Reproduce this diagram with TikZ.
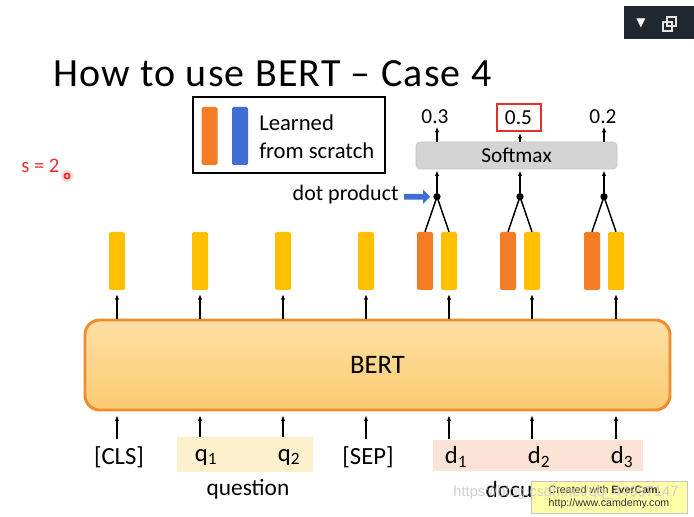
\documentclass[tikz,border=0pt]{standalone}
\usepackage{fontspec}
\setmainfont{Carlito}
\newfontfamily\symfont{DejaVu Sans}
\newfontfamily\webfont{Liberation Sans}
\usetikzlibrary{arrows.meta,positioning,shapes.arrows,calc}

\definecolor{barYellow}{HTML}{FFC000}
\definecolor{barOrange}{HTML}{F47C24}
\definecolor{barBlue}{HTML}{3F6FD4}
\definecolor{bertTop}{HTML}{FEE0A4}
\definecolor{bertBot}{HTML}{FCCB70}
\definecolor{bertLine}{HTML}{F28A2E}
\definecolor{qShade}{HTML}{FDF0CC}
\definecolor{dShade}{HTML}{FBE3D6}
\definecolor{smxFill}{HTML}{D4D4D4}
\definecolor{smxLine}{HTML}{C2C2C2}
\definecolor{toolDark}{HTML}{1F2731}
\definecolor{markRed}{HTML}{E2312B}
\definecolor{camYellow}{HTML}{FFFFAA}

\tikzset{
  tip/.style={-{Latex[length=4pt,width=3.4pt]},line width=1.1pt},
  vec/.style={minimum width=12pt,minimum height=43.5pt,inner sep=0pt,rounded corners=1.2pt},
  ylw/.style={vec,fill=barYellow},
  org/.style={vec,fill=barOrange},
  blu/.style={vec,fill=barBlue},
  tok/.style={font=\fontsize{18.5}{20}\selectfont,inner sep=1pt},
  val/.style={font=\fontsize{16}{18}\selectfont,inner sep=1pt}
}

\begin{document}
\begin{tikzpicture}[x=0.75pt,y=-0.75pt]
  \useasboundingbox (0,0) rectangle (694,517);
  \fill[white] (0,0) rectangle (694,517);

  % player toolbar
  \fill[toolDark] (624,6) rectangle (694,39);
  \node[white,font=\symfont\fontsize{9}{9}\selectfont] (menu) at (641,23) {▼};
  \draw[white!80!gray,line width=0.8pt] (663,22) rectangle (672,31) (667,17) rectangle (676,26);

  % title and marker
  \node[anchor=base west,font=\fontsize{30}{32}\selectfont\addfontfeatures{LetterSpace=3},inner sep=0pt] (title) at (53,87) {How to use BERT -- Case 4};
  \node[anchor=west,markRed,font=\fontsize{15.5}{16}\selectfont,inner sep=0pt] (s) at (21,166) {s = 2};
  \fill[markRed,opacity=0.18] (67,176) circle (6);
  \draw[markRed,line width=1.3pt] (67,176) circle (2.6);

  % legend
  \node[draw,line width=1.5pt,minimum width=144pt,minimum height=57pt,inner sep=0pt] (legend) at (289,135) {};
  \node[org] (lo) at (209.5,136) {};
  \node[blu] (lb) at (240,136) {};
  \node[anchor=west,align=left,font=\fontsize{17}{21}\selectfont,inner sep=0pt] (ltext) at (259,136.5) {Learned\\from scratch};

  % BERT
  \node[draw=bertLine,line width=2.2pt,rounded corners=11pt,top color=bertTop,bottom color=bertBot,
        minimum width=438.75pt,minimum height=67.5pt,font=\fontsize{20}{22}\selectfont] (bert) at (377.5,365) {BERT};

  % output vectors
  \foreach \i/\x in {1/117,2/200,3/283,4/366,5/449,6/532,7/616}{
    \node[ylw] (y\i) at (\x,261) {};
    \draw[tip,shorten >=3pt] (y\i |- bert.north) -- (y\i.south);
    \coordinate (in\i) at (\x,439);
    \draw[tip,shorten >=3pt] (in\i) -- (in\i |- bert.south);
  }

  % softmax
  \node[draw=smxLine,fill=smxFill,rounded corners=3pt,minimum width=150.75pt,minimum height=20.25pt,
        inner sep=0pt,font=\fontsize{16}{18}\selectfont] (smx) at (516.5,155.5) {Softmax};
  \node[val] (p1) at (435,117) {0.3};
  \node[val,draw=markRed,line width=1.5pt,minimum width=33pt,minimum height=20pt] (p2) at (518.5,117.5) {0.5};
  \node[val] (p3) at (603,117) {0.2};

  \foreach \i/\j in {1/5,2/6,3/7}{
    \node[org] (o\i) at ($(y\j)+(-24,0)$) {};
    \node[circle,fill=black,inner sep=0pt,minimum size=5.5pt] (dot\i) at ($(o\i.north)!0.5!(y\j.north)+(0,-35)$) {};
    \draw[line width=1.1pt] (o\i.north) -- (dot\i.center) -- (y\j.north);
    \draw[tip,shorten >=1pt] (dot\i.center) -- (dot\i |- smx.south);
    \draw[tip,shorten >=1pt] (dot\i |- smx.north) -- (dot\i |- p\i.south);
  }

  % dot product hint
  \node[single arrow,fill=barBlue,minimum height=19.5pt,minimum width=10.5pt,single arrow head extend=2pt,
        inner sep=1.2pt,left=2pt of dot1] (hint) {};
  \node[anchor=east,font=\fontsize{16.5}{18}\selectfont,inner sep=0pt] (dotlbl) at ($(hint.west)+(-5,-2)$) {dot product};

  % input tokens
  \fill[qShade] (177,437) rectangle (313,472);
  \fill[dShade] (433,440) rectangle (643,471);
  \node[tok] (t1) at (119,457) {[CLS]};
  \node[tok] (t2) at (206,457) {q\textsubscript{1}};
  \node[tok] (t3) at (289,457) {q\textsubscript{2}};
  \node[tok] (t4) at (368,457) {[SEP]};
  \node[tok] (t5) at (456,457) {d\textsubscript{1}};
  \node[tok] (t6) at (539,457) {d\textsubscript{2}};
  \node[tok] (t7) at (622,457) {d\textsubscript{3}};
  \node[tok,font=\fontsize{17.5}{20}\selectfont] (qlbl) at (248,489) {question};
  \node[tok,font=\fontsize{17.5}{20}\selectfont] (dlbl) at (534,489) {document};

  % recorder watermark
  \node[draw=gray!45,fill=camYellow,minimum width=117pt,minimum height=24pt,inner sep=0pt,align=left,
        font=\webfont\fontsize{8}{10}\selectfont,text=black!80] (cam) at (609,497) {Created with \textbf{EverCam.}\\http://www.camdemy.com};
  \node[text=gray!45,opacity=0.8,font=\webfont\fontsize{11}{12}\selectfont,inner sep=0pt] (web) at (566,493) {https://blog.csdn.net/qq\_44997147};
\end{tikzpicture}
\end{document}
